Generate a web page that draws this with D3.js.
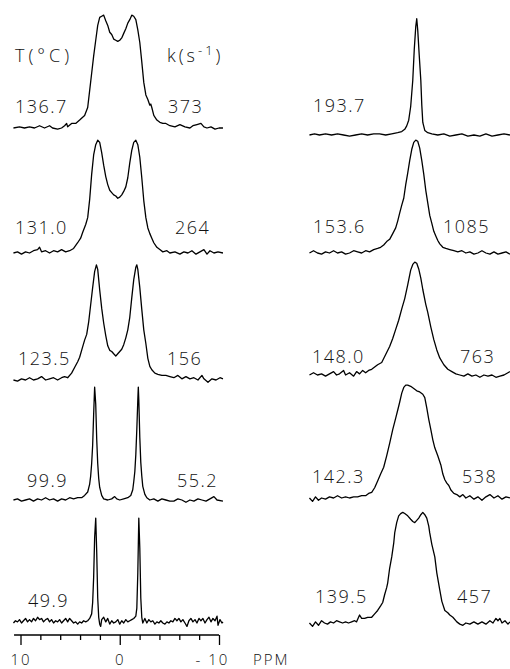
<!DOCTYPE html>
<html>
<head>
<meta charset="utf-8">
<script src="https://cdn.jsdelivr.net/npm/d3@7"></script>
<style>
  html, body { margin: 0; padding: 0; background: #fff; }
  svg text { font-family: "Open Sans", "DejaVu Sans", sans-serif; font-weight: 300; fill: #111; }
</style>
</head>
<body>
<svg id="chart" width="510" height="669"></svg>
<script>
// ---------- DATA (ppm, relative intensity) ----------
// Left column: slow exchange spectra
const s136_7 = [[10.71,0],[10.10,1],[9.60,0],[9.09,1],[8.59,0],[8.08,2],[7.58,0],[7.07,2],[6.77,0],[6.26,-1],[5.86,0],[5.56,2],[5.35,4],[5.25,1],[4.85,4],[4.44,4],[4.04,7],[3.54,11],[3.23,18],[3.03,33],[2.83,48],[2.63,63],[2.42,77],[2.22,90],[2.02,97],[1.82,98],[1.62,99],[1.41,94],[1.21,90],[1.01,84],[0.81,82],[0.61,78],[0.40,77],[0.20,76],[0,77],[-0.20,79],[-0.40,83],[-0.61,87],[-0.81,92],[-1.01,95],[-1.21,99],[-1.41,98],[-1.62,95],[-1.82,86],[-2.02,75],[-2.22,58],[-2.42,40],[-2.63,29],[-2.83,25],[-3.03,20],[-3.13,21],[-3.23,18],[-3.43,11],[-3.74,7],[-4.04,5],[-4.34,4],[-4.65,4],[-5.05,2],[-5.56,1],[-6.06,3],[-6.57,1],[-7.07,0],[-7.37,2],[-7.78,3],[-8.18,4],[-8.48,1],[-8.79,0],[-9.19,1],[-9.60,-1],[-10.00,0],[-10.40,0]];
const s131_0 = [[10.71,0],[10.30,1],[9.90,-1],[9.49,1],[9.09,0],[8.69,2],[8.28,3],[8.08,5],[7.88,1],[7.47,2],[7.07,0],[6.67,2],[6.26,1],[5.86,3],[5.45,1],[5.05,2],[4.65,4],[4.24,9],[3.94,13],[3.74,18],[3.43,25],[3.23,31],[3.03,47],[2.83,69],[2.63,86],[2.42,95],[2.22,99],[2.02,97],[1.82,88],[1.62,77],[1.41,67],[1.21,60],[1.01,55],[0.81,53],[0.61,51],[0.40,50],[0.20,48],[0,49],[-0.20,51],[-0.40,54],[-0.61,58],[-0.81,66],[-1.01,79],[-1.21,90],[-1.41,97],[-1.62,99],[-1.82,95],[-2.02,84],[-2.22,66],[-2.42,46],[-2.63,31],[-2.83,22],[-3.03,17],[-3.23,13],[-3.43,9],[-3.74,5],[-4.04,3],[-4.34,1],[-4.75,2],[-5.05,0],[-5.56,1],[-6.06,-1],[-6.46,1],[-6.87,0],[-7.27,2],[-7.68,-1],[-8.08,1],[-8.48,3],[-8.79,-1],[-9.09,2],[-9.49,0],[-9.90,1],[-10.40,0]];
const s123_5 = [[10.71,0],[10.30,-1],[9.90,1],[9.49,0],[9.09,2],[8.69,0],[8.28,1],[7.88,3],[7.47,0],[7.07,1],[6.67,2],[6.26,0],[5.86,2],[5.56,3],[5.25,2],[4.85,6],[4.55,11],[4.24,16],[4.04,20],[3.74,29],[3.54,35],[3.33,40],[3.13,51],[2.93,66],[2.73,81],[2.53,95],[2.35,101],[2.22,97],[2.02,79],[1.82,63],[1.62,50],[1.41,39],[1.21,30],[1.01,26],[0.81,25],[0.61,23],[0.40,21],[0.20,23],[0,25],[-0.20,27],[-0.40,31],[-0.61,37],[-0.81,44],[-1.01,55],[-1.21,72],[-1.41,88],[-1.62,99],[-1.72,101],[-1.82,97],[-2.02,81],[-2.22,62],[-2.42,44],[-2.63,32],[-2.83,19],[-3.03,12],[-3.23,9],[-3.54,6],[-3.84,5],[-4.24,4],[-4.65,4],[-5.05,3],[-5.45,2],[-5.86,4],[-6.26,1],[-6.67,3],[-7.07,1],[-7.47,2],[-7.88,0],[-8.28,4],[-8.48,1],[-8.89,-2],[-9.29,1],[-9.70,0],[-10.10,2],[-10.40,1]];
const s99_9 = [[10.71,0],[10.30,1],[9.90,-1],[9.49,0],[9.09,1],[8.69,-1],[8.28,1],[7.88,0],[7.47,2],[7.07,0],[6.67,1],[6.26,-1],[5.86,1],[5.45,0],[5.05,2],[4.65,1],[4.24,2],[3.84,2],[3.54,4],[3.23,7],[3.03,14],[2.93,21],[2.83,32],[2.73,48],[2.63,75],[2.53,99],[2.42,84],[2.32,53],[2.22,32],[2.12,19],[2.02,11],[1.82,4],[1.62,1],[1.21,0],[0.81,1],[0.51,3],[0.30,1],[0,0],[-0.40,1],[-0.81,2],[-1.11,4],[-1.31,9],[-1.41,16],[-1.52,25],[-1.62,40],[-1.72,62],[-1.82,88],[-1.87,99],[-1.92,88],[-2.02,55],[-2.12,33],[-2.22,21],[-2.32,12],[-2.53,5],[-2.73,2],[-3.03,0],[-3.43,1],[-3.84,-1],[-4.24,1],[-4.65,0],[-5.05,-1],[-5.45,-1],[-5.86,1],[-6.26,0],[-6.67,-2],[-7.07,0],[-7.47,-1],[-7.88,1],[-8.28,0],[-8.69,-1],[-9.09,1],[-9.49,3],[-9.80,0],[-10.40,-1]];
const s49_9 = [[10.71,0],[10.51,2],[10.30,1],[10.10,3],[9.90,0],[9.70,2],[9.49,4],[9.29,1],[9.09,3],[8.89,1],[8.69,4],[8.48,2],[8.28,5],[8.08,3],[7.88,4],[7.68,1],[7.47,3],[7.27,4],[7.07,1],[6.87,3],[6.67,0],[6.46,2],[6.26,1],[6.06,3],[5.86,0],[5.66,2],[5.45,4],[5.25,1],[5.05,4],[4.85,2],[4.65,0],[4.44,1],[4.24,-1],[4.04,1],[3.84,0],[3.64,2],[3.43,1],[3.23,2],[3.03,4],[2.83,8],[2.73,18],[2.63,40],[2.53,75],[2.42,92],[2.32,62],[2.22,22],[2.12,5],[2.02,-1],[1.92,-3],[1.82,3],[1.62,5],[1.41,1],[1.21,4],[1.01,-1],[0.81,2],[0.61,0],[0.40,1],[0.20,3],[0,-1],[-0.20,2],[-0.40,0],[-0.61,3],[-0.81,1],[-1.01,2],[-1.21,3],[-1.41,4],[-1.62,6],[-1.72,13],[-1.82,44],[-1.92,92],[-2.02,66],[-2.12,22],[-2.22,5],[-2.32,0],[-2.53,4],[-2.73,0],[-2.93,3],[-3.13,1],[-3.33,2],[-3.54,-1],[-3.74,1],[-3.94,0],[-4.14,2],[-4.34,0],[-4.55,-1],[-4.75,1],[-4.95,0],[-5.15,2],[-5.35,1],[-5.56,4],[-5.76,2],[-5.96,4],[-6.16,1],[-6.36,3],[-6.57,0],[-6.77,-3],[-6.97,2],[-7.17,4],[-7.37,1],[-7.58,3],[-7.78,0],[-7.98,4],[-8.18,2],[-8.38,4],[-8.59,0],[-8.79,3],[-8.99,5],[-9.19,1],[-9.39,4],[-9.60,2],[-9.80,6],[-9.90,-2],[-10.10,3],[-10.30,0],[-10.40,1]];
// Right column: fast exchange spectra
const s193_7 = [[10.71,0],[10.20,1],[9.70,0],[9.09,1],[8.48,0],[7.88,1],[7.27,0],[6.67,-1],[6.06,0],[5.45,1],[4.85,0],[4.24,1],[3.64,1],[3.03,0],[2.42,1],[1.82,2],[1.41,3],[1.11,5],[0.91,8],[0.71,13],[0.51,25],[0.30,48],[0.15,75],[0,95],[-0.10,102],[-0.20,92],[-0.35,70],[-0.51,48],[-0.61,26],[-0.71,11],[-0.91,4],[-1.21,2],[-1.62,1],[-2.22,0],[-2.83,1],[-3.43,-1],[-4.04,0],[-4.65,1],[-5.25,-1],[-5.86,0],[-6.46,-1],[-7.07,1],[-7.68,-1],[-8.28,0],[-8.89,1],[-9.49,0]];
const s153_6 = [[10.71,0],[10.30,2],[9.90,0],[9.49,-1],[9.09,1],[8.69,0],[8.28,2],[7.88,0],[7.47,1],[7.07,-1],[6.67,0],[6.26,2],[5.86,1],[5.45,0],[5.05,2],[4.65,1],[4.24,3],[3.84,4],[3.54,5],[3.23,7],[2.93,10],[2.63,12],[2.32,17],[2.02,22],[1.82,28],[1.62,35],[1.41,42],[1.21,48],[1.01,60],[0.81,70],[0.61,81],[0.40,91],[0.20,97],[0,99],[-0.20,98],[-0.40,92],[-0.61,81],[-0.81,69],[-1.01,55],[-1.21,44],[-1.41,33],[-1.62,26],[-1.82,19],[-2.02,15],[-2.22,11],[-2.42,8],[-2.73,5],[-3.03,4],[-3.43,3],[-3.84,2],[-4.24,1],[-4.65,2],[-5.05,0],[-5.45,1],[-5.86,-1],[-6.26,0],[-6.67,2],[-7.07,0],[-7.47,-1],[-7.88,1],[-8.28,-1],[-8.69,0],[-9.09,1],[-9.49,-1]];
const s148_0 = [[10.71,0],[10.30,2],[9.90,0],[9.49,1],[9.09,-1],[8.69,1],[8.28,3],[7.98,0],[7.68,1],[7.27,4],[7.07,0],[6.67,2],[6.26,-1],[5.96,3],[5.66,1],[5.35,4],[5.05,2],[4.75,4],[4.44,5],[4.14,7],[3.84,9],[3.43,11],[3.03,18],[2.63,25],[2.32,32],[2.02,40],[1.72,48],[1.41,58],[1.11,67],[0.81,79],[0.51,92],[0.30,97],[0.10,99],[-0.10,98],[-0.30,93],[-0.51,85],[-0.71,75],[-1.01,62],[-1.21,55],[-1.52,42],[-1.82,31],[-2.12,22],[-2.42,15],[-2.83,9],[-3.23,5],[-3.64,3],[-4.04,1],[-4.44,0],[-4.85,-1],[-5.25,1],[-5.66,-1],[-6.06,0],[-6.46,-2],[-6.87,0],[-7.27,-1],[-7.68,0],[-8.08,-2],[-8.48,-1],[-8.89,0],[-9.29,2],[-9.49,3]];
const s142_3 = [[10.71,0],[10.40,-3],[10.10,1],[9.80,-2],[9.49,0],[9.09,-1],[8.69,1],[8.28,0],[7.88,2],[7.47,0],[7.07,1],[6.67,0],[6.26,1],[5.86,1],[5.45,2],[5.05,2],[4.75,4],[4.44,5],[4.14,9],[3.84,15],[3.54,21],[3.23,27],[2.93,37],[2.63,48],[2.32,60],[2.02,70],[1.82,77],[1.62,84],[1.41,92],[1.21,97],[1.01,99],[0.81,99],[0.51,98],[0.20,96],[-0.10,94],[-0.40,93],[-0.71,91],[-0.91,88],[-1.11,79],[-1.31,69],[-1.52,60],[-1.72,51],[-1.92,44],[-2.22,37],[-2.53,29],[-2.73,21],[-2.93,16],[-3.13,13],[-3.33,11],[-3.54,7],[-3.84,4],[-4.14,3],[-4.44,1],[-4.75,3],[-5.05,0],[-5.45,2],[-5.86,-1],[-6.26,1],[-6.67,-2],[-7.07,1],[-7.47,3],[-7.88,0],[-8.28,2],[-8.69,-1],[-9.09,1],[-9.49,0]];
const s139_5 = [[10.71,0],[10.40,-3],[10.10,1],[9.80,-2],[9.49,2],[9.19,0],[8.89,-1],[8.59,1],[8.28,0],[7.98,2],[7.68,1],[7.37,0],[7.07,1],[6.77,0],[6.46,1],[6.16,2],[5.96,1],[5.66,7],[5.45,4],[5.15,4],[4.85,5],[4.44,5],[4.14,8],[3.84,11],[3.54,15],[3.33,18],[3.13,25],[2.93,31],[2.83,35],[2.63,48],[2.42,58],[2.22,70],[2.12,79],[1.92,88],[1.72,94],[1.52,96],[1.31,97],[1.11,96],[0.81,94],[0.51,91],[0.30,89],[0.10,88],[-0.10,90],[-0.30,92],[-0.51,95],[-0.71,97],[-0.91,95],[-1.11,92],[-1.31,85],[-1.41,79],[-1.62,69],[-1.92,58],[-2.12,44],[-2.42,29],[-2.63,19],[-2.93,11],[-3.23,9],[-3.43,7],[-3.74,5],[-4.14,1],[-4.44,-1],[-4.75,-2],[-5.05,0],[-5.45,-1],[-5.86,1],[-6.26,-1],[-6.67,1],[-7.07,-1],[-7.47,2],[-7.78,0],[-8.08,4],[-8.28,2],[-8.48,4],[-8.69,0],[-8.99,2],[-9.29,-1],[-9.49,1]];

const leftSpectra  = [s136_7, s131_0, s123_5, s99_9, s49_9];
const rightSpectra = [s193_7, s153_6, s148_0, s142_3, s139_5];
const leftTemps  = ["136.7", "131.0", "123.5", "99.9", "49.9"];
const leftRates  = ["373", "264", "156", "55.2", ""];
const rightTemps = ["193.7", "153.6", "148.0", "142.3", "139.5"];
const rightRates = ["", "1085", "763", "538", "457"];
const tickValues = [10, 8, 6, 4, 2, 0, -2, -4, -6, -8, -10];
const majorTicks = [10, 0, -10];

// ---------- LAYOUT ----------
const svg = d3.select("#chart");
const leftBase  = [128, 253, 380, 500, 623];
const rightBase = [135, 253, 375, 498, 623];
const leftTempX  = [15, 15, 18, 27, 28];
const leftTempY  = [113, 234, 365, 487, 607];
const leftRateX  = [168, 175, 167, 177, 0];
const rightTempX = [313, 313, 312, 312, 315];
const rightTempY = [112, 233, 363, 483, 603];
const rightRateX = [0, 443, 460, 462, 457];

const xL = d3.scaleLinear().domain([10, -10]).range([20.5, 219]);
const xR = d3.scaleLinear().domain([10, -10]).range([316.5, 515]);
const yI = d3.scaleLinear().domain([0, 100]).range([0, -114]);

svg.append("defs").append("clipPath").attr("id", "clip")
  .append("rect").attr("x", 0).attr("y", 0).attr("width", 510).attr("height", 669);

function drawColumn(spectra, xs, bases) {
  const line = d3.line().x(d => xs(d[0])).y(d => yI(d[1])).curve(d3.curveLinear);
  const g = svg.append("g").attr("clip-path", "url(#clip)");
  g.selectAll("path.sp").data(spectra).join("path")
    .attr("class", "sp")
    .attr("transform", (d, i) => `translate(0,${bases[i]})`)
    .attr("d", line)
    .attr("fill", "none")
    .attr("stroke", "#000")
    .attr("stroke-width", 1.3)
    .attr("stroke-linejoin", "round");
}
drawColumn(leftSpectra, xL, leftBase);
drawColumn(rightSpectra, xR, rightBase);

const labelStyle = sel => sel.attr("font-size", 18).attr("letter-spacing", 1.5);

svg.append("g").selectAll("text").data(leftTemps).join("text")
  .attr("x", (d, i) => leftTempX[i]).attr("y", (d, i) => leftTempY[i])
  .text(d => d).call(labelStyle);
svg.append("g").selectAll("text").data(leftRates).join("text")
  .attr("x", (d, i) => leftRateX[i]).attr("y", (d, i) => leftTempY[i])
  .text(d => d).call(labelStyle);
svg.append("g").selectAll("text").data(rightTemps).join("text")
  .attr("x", (d, i) => rightTempX[i]).attr("y", (d, i) => rightTempY[i])
  .text(d => d).call(labelStyle);
svg.append("g").selectAll("text").data(rightRates).join("text")
  .attr("x", (d, i) => rightRateX[i]).attr("y", (d, i) => rightTempY[i])
  .text(d => d).call(labelStyle);

// column headers
svg.append("text").attr("x", 15).attr("y", 62).attr("font-size", 18).attr("letter-spacing", 4)
  .text("T(°C)");
const kt = svg.append("text").attr("x", 167).attr("y", 62).attr("font-size", 18).attr("letter-spacing", 3);
kt.append("tspan").text("k(s");
kt.append("tspan").attr("dy", -7).attr("font-size", 13).text("-1");
kt.append("tspan").attr("dy", 7).text(")");

// axis
const axisG = svg.append("g").attr("transform", "translate(0,635)");
axisG.call(d3.axisBottom(xL).tickValues(tickValues).tickSize(5).tickSizeOuter(0)
  .tickFormat(d => majorTicks.includes(d) ? String(d) : ""));
axisG.select(".domain").remove();
axisG.append("line").attr("x1", xL(10.65)).attr("x2", xL(-10)).attr("stroke", "#000").attr("stroke-width", 1.5);
axisG.selectAll(".tick line").attr("stroke", "#000").attr("stroke-width", 1.3)
  .attr("y2", d => majorTicks.includes(d) ? 10 : 5);
axisG.selectAll(".tick text")
  .attr("y", 30).attr("dy", 0)
  .attr("font-size", 15).attr("letter-spacing", 2)
  .attr("font-family", "'Open Sans', 'DejaVu Sans', sans-serif")
  .attr("fill", "#111")
  .attr("dx", d => d === -10 ? -7 : 0)
  .text(d => d === -10 ? "- 10" : (majorTicks.includes(d) ? String(d) : ""));
axisG.append("text").attr("x", 253).attr("y", 30).attr("text-anchor", "start")
  .attr("font-size", 15).attr("letter-spacing", 2).text("PPM");
</script>
</body>
</html>
